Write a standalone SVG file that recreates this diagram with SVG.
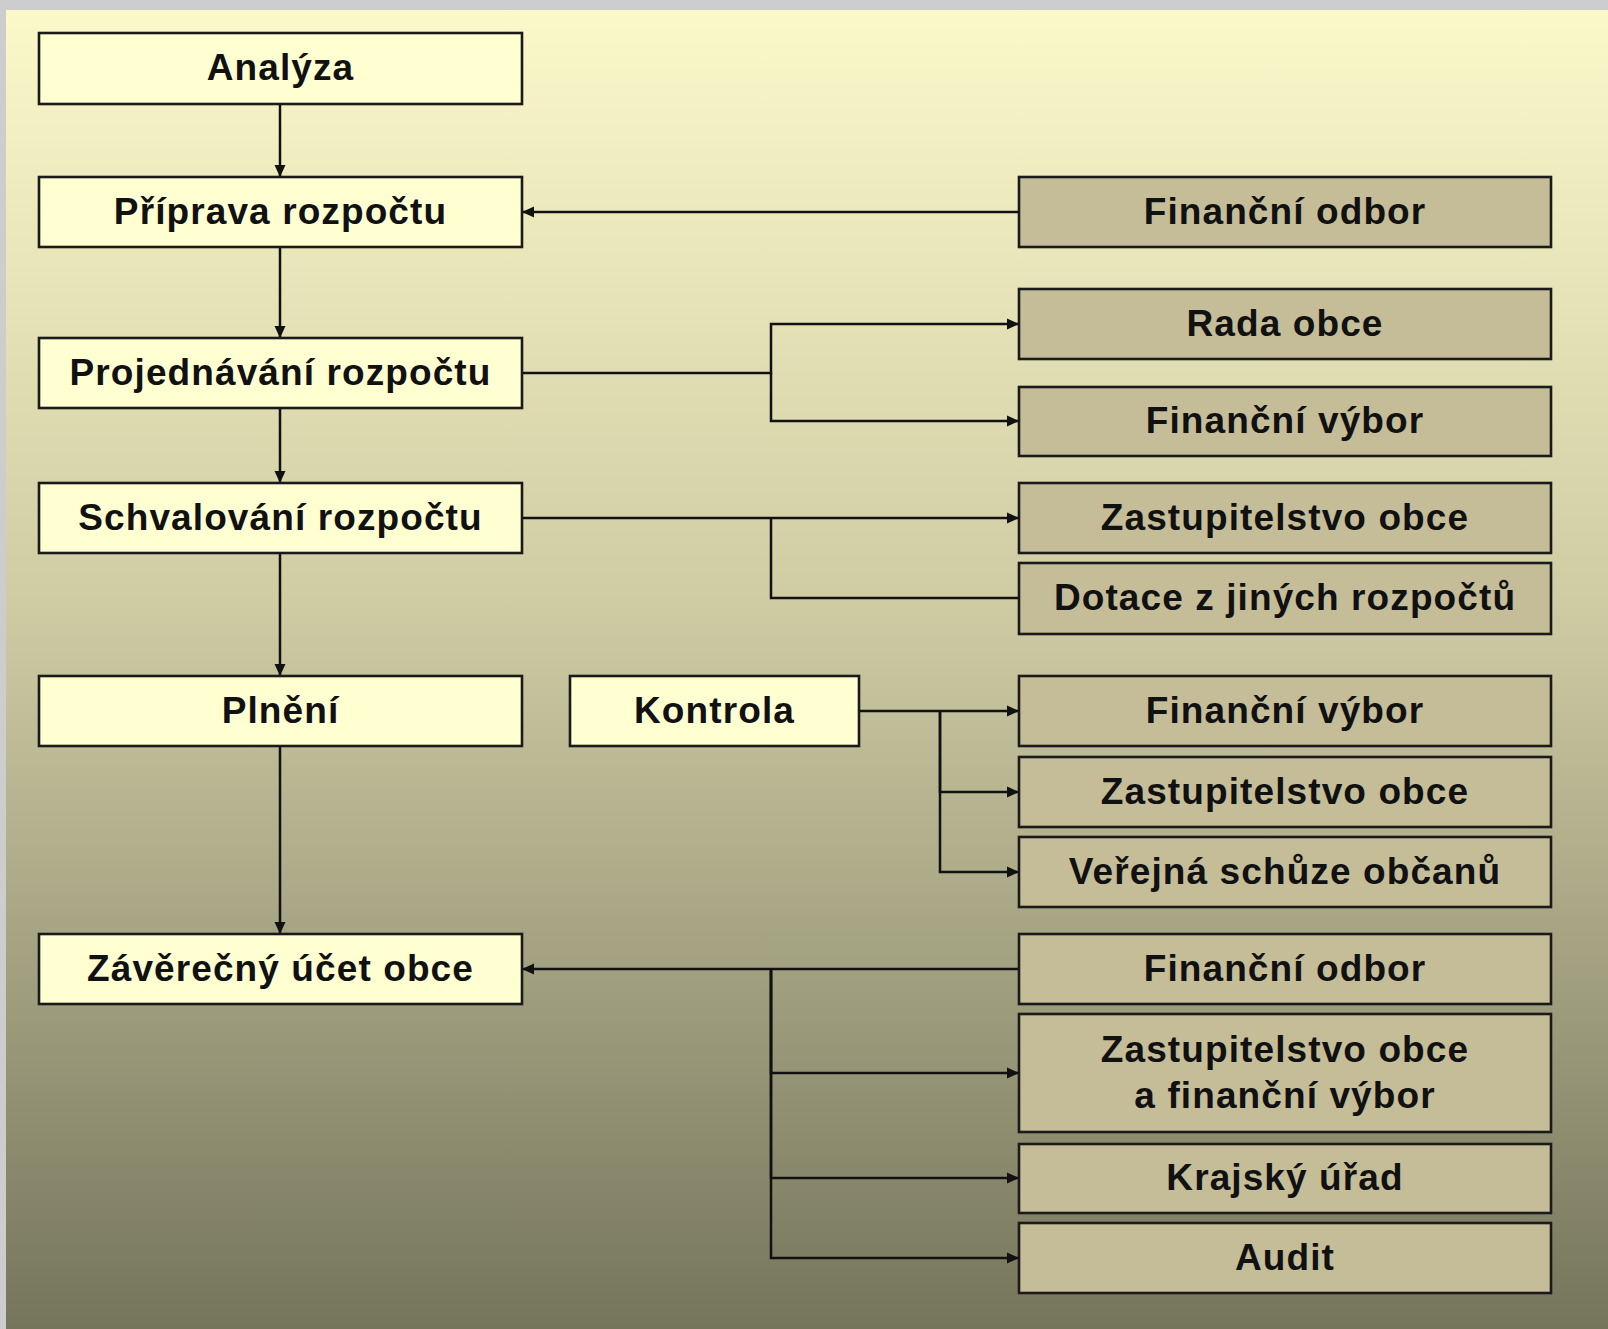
<svg xmlns="http://www.w3.org/2000/svg" width="1608" height="1329" viewBox="0 0 1608 1329">
<defs>
<linearGradient id="bg" x1="0" y1="0" x2="0" y2="1">
<stop offset="0" stop-color="#FBF9CA"/>
<stop offset="0.45" stop-color="#CFCCA4"/>
<stop offset="1" stop-color="#75755C"/>
</linearGradient>
<marker id="ah" viewBox="0 0 12 12" refX="12" refY="6" markerWidth="12" markerHeight="12" markerUnits="userSpaceOnUse" orient="auto">
<path d="M0,0.5 L12,6 L0,11.5 z" fill="#111"/>
</marker>
<style>
.box{stroke:#1a1a1a;stroke-width:2.6}
.l{fill:#FFFFD2}
.r{fill:#C5BD98}
text{font-family:"Liberation Sans",Arial,sans-serif;font-weight:bold;font-size:37px;letter-spacing:1.1px;fill:#111;text-anchor:middle}
.c{fill:none;stroke:#111;stroke-width:2.5}
</style>
</defs>
<rect x="0" y="0" width="1608" height="1329" fill="#CDCDCD"/>
<rect x="6" y="10" width="1602" height="1319" fill="url(#bg)"/>

<g id="connectors">
<path class="c" d="M280,104 V177" marker-end="url(#ah)"/>
<path class="c" d="M280,247 V338" marker-end="url(#ah)"/>
<path class="c" d="M280,408 V483" marker-end="url(#ah)"/>
<path class="c" d="M280,553 V676" marker-end="url(#ah)"/>
<path class="c" d="M280,746 V934" marker-end="url(#ah)"/>
<path class="c" d="M1019,212 H522" marker-end="url(#ah)"/>
<path class="c" d="M522,373 H771 V324 H1019" marker-end="url(#ah)"/>
<path class="c" d="M771,373 V421 H1019" marker-end="url(#ah)"/>
<path class="c" d="M522,518 H1019" marker-end="url(#ah)"/>
<path class="c" d="M771,518 V598 H1019"/>
<path class="c" d="M859,711 H1019" marker-end="url(#ah)"/>
<path class="c" d="M940,711 V792 H1019" marker-end="url(#ah)"/>
<path class="c" d="M940,711 V872 H1019" marker-end="url(#ah)"/>
<path class="c" d="M1019,969 H522" marker-end="url(#ah)"/>
<path class="c" d="M771,969 V1073 H1019" marker-end="url(#ah)"/>
<path class="c" d="M771,969 V1178 H1019" marker-end="url(#ah)"/>
<path class="c" d="M771,969 V1258 H1019" marker-end="url(#ah)"/>
</g>

<g id="analyza"><rect class="box l" x="39" y="33" width="483" height="71"/><text x="280.5" y="80">Analýza</text></g>
<g id="priprava"><rect class="box l" x="39" y="177" width="483" height="70"/><text x="280.5" y="224">Příprava rozpočtu</text></g>
<g id="projednavani"><rect class="box l" x="39" y="338" width="483" height="70"/><text x="280.5" y="385">Projednávání rozpočtu</text></g>
<g id="schvalovani"><rect class="box l" x="39" y="483" width="483" height="70"/><text x="280.5" y="530">Schvalování rozpočtu</text></g>
<g id="plneni"><rect class="box l" x="39" y="676" width="483" height="70"/><text x="280.5" y="723">Plnění</text></g>
<g id="zaverecny"><rect class="box l" x="39" y="934" width="483" height="70"/><text x="280.5" y="981">Závěrečný účet obce</text></g>
<g id="kontrola"><rect class="box l" x="570" y="676" width="289" height="70"/><text x="714.5" y="723">Kontrola</text></g>

<g id="fin-odbor-1"><rect class="box r" x="1019" y="177" width="532" height="70"/><text x="1285" y="224">Finanční odbor</text></g>
<g id="rada-obce"><rect class="box r" x="1019" y="289" width="532" height="70"/><text x="1285" y="336">Rada obce</text></g>
<g id="fin-vybor-1"><rect class="box r" x="1019" y="387" width="532" height="69"/><text x="1285" y="433">Finanční výbor</text></g>
<g id="zastupitelstvo-1"><rect class="box r" x="1019" y="483" width="532" height="70"/><text x="1285" y="530">Zastupitelstvo obce</text></g>
<g id="dotace"><rect class="box r" x="1019" y="563" width="532" height="71"/><text x="1285" y="610">Dotace z jiných rozpočtů</text></g>
<g id="fin-vybor-2"><rect class="box r" x="1019" y="676" width="532" height="70"/><text x="1285" y="723">Finanční výbor</text></g>
<g id="zastupitelstvo-2"><rect class="box r" x="1019" y="757" width="532" height="70"/><text x="1285" y="804">Zastupitelstvo obce</text></g>
<g id="verejna"><rect class="box r" x="1019" y="837" width="532" height="70"/><text x="1285" y="884">Veřejná schůze občanů</text></g>
<g id="fin-odbor-2"><rect class="box r" x="1019" y="934" width="532" height="70"/><text x="1285" y="981">Finanční odbor</text></g>
<g id="zast-fin"><rect class="box r" x="1019" y="1014" width="532" height="118"/><text x="1285" y="1062">Zastupitelstvo obce</text><text x="1285" y="1108">a finanční výbor</text></g>
<g id="krajsky"><rect class="box r" x="1019" y="1144" width="532" height="69"/><text x="1285" y="1190">Krajský úřad</text></g>
<g id="audit"><rect class="box r" x="1019" y="1223" width="532" height="70"/><text x="1285" y="1270">Audit</text></g>
</svg>
